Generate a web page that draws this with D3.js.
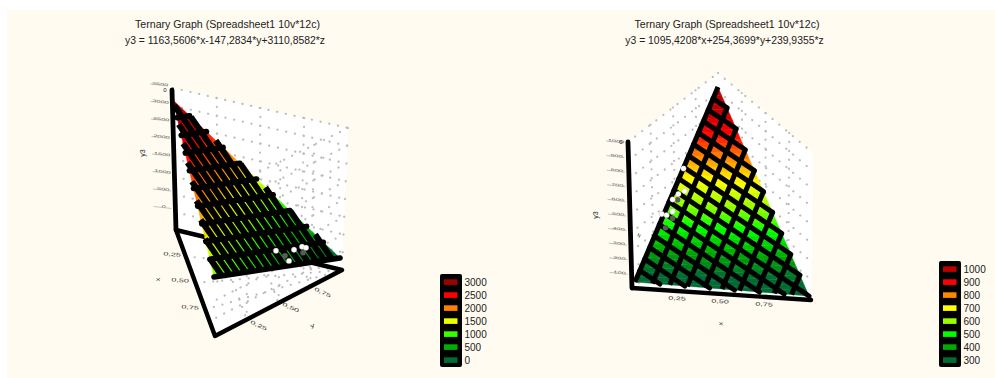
<!DOCTYPE html>
<html>
<head>
<meta charset="utf-8">
<script src="https://cdn.jsdelivr.net/npm/d3@7"></script>
<style>
  html, body { margin: 0; background: #fff; }
  svg { display: block; }
  text { font-family: "Liberation Sans", Arial, sans-serif; fill: #222; }
</style>
</head>
<body>
<svg id="chart" width="995" height="378"></svg>
<script>
const titleLeft = "Ternary Graph (Spreadsheet1 10v*12c)";
const titleRight = "Ternary Graph (Spreadsheet1 10v*12c)";
const formulaLeft = "y3 = 1163,5606*x-147,2834*y+3110,8582*z";
const formulaRight = "y3 = 1095,4208*x+254,3699*y+239,9355*z";

// y3 at the three corners: apex, lower left, lower right
const cornerValuesLeft = [3110.8582, 1163.5606, -147.2834];
const cornerValuesRight = [1095.4208, 254.3699, 239.9355];

const legendValuesLeft = [3000, 2500, 2000, 1500, 1000, 500, 0];
const legendColorsLeft = ["#9c0000", "#ff0000", "#ff8000", "#e8ff00", "#33ff00", "#00b000", "#006b33"];
const legendValuesRight = [1000, 900, 800, 700, 600, 500, 400, 300];
const legendColorsRight = ["#bb0000", "#ff0000", "#ff8800", "#ffff00", "#99ff00", "#00ff00", "#00aa00", "#006b33"];

const zTicksLeft = [3500, 3000, 2500, 2000, 1500, 1000, 500, 0];
const zTicksRight = [1000, 900, 800, 700, 600, 500, 400, 300, 200, 100];

// sample points as [apex share, right corner share]
const pointsLeft = [[0.092, 0.522], [0.026, 0.604], [0.083, 0.662], [0.093, 0.729], [0.084, 0.758]];
const hiddenLeft = [[0.057, 0.582], [0.059, 0.726]];
const pointsRight = [[0.582, 0.001], [0.471, 0.060], [0.454, 0.033], [0.424, 0.014], [0.365, 0.042], [0.348, -0.012], [0.344, 0.018]];
const hiddenRight = [[0.425, 0.042], [0.331, 0.058], [0.281, 0.042]];

const svg = d3.select("#chart");
svg.append("rect").attr("x", 7).attr("y", 10).attr("width", 988).attr("height", 368).attr("fill", "#fffbf0");

// ternary (s, t) -> pixel, s towards apex, t towards right corner
function makeProjection(apex, left, right) {
  const xs = d3.scaleLinear().domain([0, 1]).range([left[0], apex[0]]);
  const ys = d3.scaleLinear().domain([0, 1]).range([left[1], apex[1]]);
  const xt = d3.scaleLinear().domain([0, 1]).range([0, right[0] - left[0]]);
  const yt = d3.scaleLinear().domain([0, 1]).range([0, right[1] - left[1]]);
  return (s, t) => [xs(s) + xt(t), ys(s) + yt(t)];
}

// keep the part of a polygon where value is on the wanted side of limit
function clipPoly(poly, valueOf, limit, keepAbove) {
  const inside = (p) => (keepAbove ? valueOf(p) >= limit : valueOf(p) <= limit);
  const out = [];
  poly.forEach((p, i) => {
    const q = poly[(i + 1) % poly.length];
    if (inside(p)) out.push(p);
    if (inside(p) !== inside(q)) {
      const k = (limit - valueOf(p)) / (valueOf(q) - valueOf(p));
      out.push([p[0] + (q[0] - p[0]) * k, p[1] + (q[1] - p[1]) * k]);
    }
  });
  return out;
}

function wallGrid(g, corners, nu, nv) {
  const [a, b, c, d] = corners;
  const mix = (p, q, k) => [p[0] + (q[0] - p[0]) * k, p[1] + (q[1] - p[1]) * k];
  const lines = [];
  d3.range(0, nv + 1).forEach((i) => lines.push([mix(a, d, i / nv), mix(b, c, i / nv)]));
  d3.range(1, nu).forEach((i) => lines.push([mix(a, b, i / nu), mix(d, c, i / nu)]));
  g.selectAll(null).data(lines).join("path")
    .attr("d", d3.line())
    .attr("fill", "none")
    .attr("stroke", "#bdbdbd")
    .attr("stroke-width", 2.2)
    .attr("stroke-linecap", "round")
    .attr("stroke-dasharray", "0.1 8.8");
}

function drawChart(cfg) {
  const g = svg.append("g");

  g.append("polygon").attr("points", cfg.whiteArea.join(" ")).attr("fill", "#fff");
  cfg.walls.forEach((w) => wallGrid(g, w.corners, w.nu, w.nv));

  // base triangle and the back edge go under the surface
  g.append("path")
    .attr("d", d3.line()(cfg.baseLine))
    .attr("fill", "none").attr("stroke", "#000").attr("stroke-width", 4.4)
    .attr("stroke-linejoin", "round").attr("stroke-linecap", "round");

  const project = makeProjection(cfg.apex, cfg.left, cfg.right);
  const [vA, vL, vR] = cfg.cornerValues;
  const field = (p) => vL + (vA - vL) * p[0] + (vR - vL) * p[1];

  const color = d3.scaleLinear().domain(cfg.legendValues).range(cfg.legendColors).clamp(true);
  const step = (cfg.legendValues[0] - cfg.legendValues[1]) / 5;
  const triangle = [[1, 0], [0, 0], [0, 1]];
  const lo = d3.min(cfg.cornerValues), hi = d3.max(cfg.cornerValues);
  const levels = d3.range(Math.floor(lo / step) * step, hi + step, step);

  levels.forEach((level) => {
    let band = clipPoly(triangle, field, level, true);
    if (band.length) band = clipPoly(band, field, level + step, false);
    if (band.length < 3) return;
    g.append("polygon")
      .attr("points", band.map((p) => project(p[0], p[1])).join(" "))
      .attr("fill", color(level + step / 2))
      .attr("stroke", color(level + step / 2))
      .attr("stroke-width", 0.4);
  });

  const mesh = g.append("g").attr("fill", "none").attr("stroke", "#000")
    .attr("stroke-linecap", "round").attr("stroke-linejoin", "round");

  // first family: s + rowSkew * t = const, running right from the left edge
  d3.range(cfg.rowFrom, cfg.rowCount).forEach((m) => {
    const c = m / cfg.rowCount;
    const k = cfg.rowSkew;
    const hyp = (1 - c) / (1 - k);
    const end = k > 0 ? Math.min(c / k, hyp) : hyp;
    mesh.append("path").attr("stroke-width", cfg.rowWidth)
      .attr("d", d3.line()([project(c, 0), project(c - k * end, end)]));
  });

  // second family: t + crossSkew * s = const, running up from the bottom edge
  d3.range(cfg.crossFrom, cfg.crossCount).forEach((j) => {
    const c = j / cfg.crossCount;
    const q = cfg.crossSkew;
    const limits = [(1 - c) / (1 - q)];
    if (q > 0) limits.push(c / q);
    const top = d3.min(limits);
    if (top <= 0) return;
    mesh.append("path").attr("stroke-width", cfg.crossWidth)
      .attr("stroke-linecap", "butt")
      .attr("d", d3.line()([project(0, c), project(top, c - q * top)]));
  });

  g.selectAll(null).data(cfg.hidden).join("circle")
    .attr("cx", (d) => project(d[0], d[1])[0])
    .attr("cy", (d) => project(d[0], d[1])[1])
    .attr("r", 2.8).attr("fill", "#5a5a5a");
  g.selectAll(null).data(cfg.points).join("circle")
    .attr("cx", (d) => project(d[0], d[1])[0])
    .attr("cy", (d) => project(d[0], d[1])[1])
    .attr("r", 2.7).attr("fill", "#fff").attr("stroke", "#999").attr("stroke-width", 0.3);

  // thick y3 axis
  g.append("line")
    .attr("x1", cfg.axisTop[0]).attr("y1", cfg.axisTop[1])
    .attr("x2", cfg.axisBottom[0]).attr("y2", cfg.axisBottom[1])
    .attr("stroke", "#000").attr("stroke-width", 4.8).attr("stroke-linecap", "round");

  const z = d3.scaleLinear().domain(cfg.zDomain).range([cfg.axisBottom[1], cfg.axisTop[1]]);
  const zX = d3.scaleLinear().domain(cfg.zDomain).range([cfg.axisBottom[0], cfg.axisTop[0]]);
  const zAxis = g.append("g").call(d3.axisLeft(z).tickValues(cfg.zTicks).tickSize(0).tickFormat(d3.format("d")));
  zAxis.select(".domain").remove();
  zAxis.selectAll(".tick").each(function (d) {
    const tick = d3.select(this);
    tick.attr("transform", `translate(${zX(d) - 12},${z(d) + cfg.zTickDy})`);
    tick.select("text").attr("x", 0).attr("y", 0).attr("dy", "0.1em")
      .attr("font-size", 5).attr("text-anchor", "middle").style("fill", "#555")
      .attr("transform", "rotate(7) scale(1.5,0.7)");
    tick.append("line")
      .attr("x1", -10).attr("x2", 8).attr("y1", -1).attr("y2", 1)
      .attr("stroke", "#aaa").attr("stroke-width", 0.7);
  });

  g.append("text").attr("transform", `translate(${cfg.yTitle[0]},${cfg.yTitle[1]}) rotate(-90)`)
    .attr("font-size", 7).attr("text-anchor", "middle").text("y3");
  g.append("text").attr("x", cfg.axisTop[0] - 7).attr("y", cfg.axisTop[1] + 2)
    .attr("font-size", 6).attr("text-anchor", "middle").text("0");

  cfg.edgeLabels.forEach((e) => {
    g.append("text")
      .attr("transform", `translate(${e.at[0]},${e.at[1]}) rotate(${e.rotate || 0}) scale(1.5,0.85)`)
      .attr("font-size", 6).attr("text-anchor", "middle").style("fill", "#333").text(e.text);
  });

  // titles
  g.append("text").attr("x", cfg.titleX).attr("y", 28).attr("font-size", 10.6)
    .attr("text-anchor", "middle").text(cfg.title);
  g.append("text").attr("x", cfg.titleX - 2.5).attr("y", 44).attr("font-size", 10.4)
    .attr("text-anchor", "middle").text(cfg.formula);

  // legend, last swatch sits at the same height in both charts
  const n = cfg.legendValues.length;
  const ly = d3.scalePoint().domain(cfg.legendValues).range([360 - (n - 1) * 13, 360]);
  g.append("rect").attr("x", cfg.legendX).attr("y", 360 - (n - 1) * 13 - 8)
    .attr("width", 22).attr("height", (n - 1) * 13 + 15).attr("rx", 2).attr("fill", "#000");
  cfg.legendValues.forEach((v, i) => {
    g.append("rect").attr("x", cfg.legendX + 4).attr("y", ly(v) - 2.7)
      .attr("width", 13.5).attr("height", 5.6).attr("fill", cfg.legendColors[i]);
    g.append("text").attr("x", cfg.legendX + 24.5).attr("y", ly(v) + 3.6)
      .attr("font-size", 10).text(v);
  });
}

drawChart({
  title: titleLeft, formula: formulaLeft, titleX: 227.5,
  cornerValues: cornerValuesLeft,
  legendValues: legendValuesLeft, legendColors: legendColorsLeft, legendX: 440,
  apex: [173, 100], left: [214, 277], right: [340, 258],
  rowSkew: 0, rowCount: 10, rowFrom: 0, rowWidth: 5.6,
  crossSkew: 0.58, crossCount: 16, crossFrom: 1, crossWidth: 6,
  points: pointsLeft, hidden: hiddenLeft,
  whiteArea: [[173, 88], [348, 128], [342, 270], [215, 336], [176, 230]],
  walls: [
    { corners: [[173, 88], [348, 128], [342, 270], [176, 230]], nu: 4, nv: 8 },
    { corners: [[348, 128], [213, 195], [215, 336], [342, 270]], nu: 4, nv: 8 },
    { corners: [[176, 230], [342, 270], [342, 270], [215, 336]], nu: 4, nv: 4 }
  ],
  baseLine: [[176, 230], [215, 336], [342, 270], [176, 230]],
  axisTop: [172, 90], axisBottom: [176, 230],
  zDomain: [-500, 3500], zTicks: zTicksLeft, zTickDy: -5,
  yTitle: [145, 153],
  edgeLabels: [
    { text: "0,25", at: [172, 256], rotate: 5 }, { text: "0,50", at: [180, 282], rotate: 5 },
    { text: "0,75", at: [190, 309], rotate: 5 }, { text: "x", at: [158, 281], rotate: 5 },
    { text: "0,25", at: [258, 327], rotate: 25 }, { text: "0,50", at: [290, 309], rotate: 25 },
    { text: "0,75", at: [322, 294], rotate: 25 }, { text: "y", at: [313, 327], rotate: -25 }
  ]
});

drawChart({
  title: titleRight, formula: formulaRight, titleX: 727,
  cornerValues: cornerValuesRight,
  legendValues: legendValuesRight, legendColors: legendColorsRight, legendX: 939,
  apex: [718, 87], left: [635, 282], right: [809, 296],
  rowSkew: 1 - 10 / 17, rowCount: 17, rowFrom: 1, rowWidth: 5,
  crossSkew: 0, crossCount: 10, crossFrom: 0, crossWidth: 5,
  points: pointsRight, hidden: hiddenRight,
  whiteArea: [[628, 142], [718, 73], [813, 153], [811, 300], [632, 288]],
  walls: [
    { corners: [[628, 142], [718, 73], [720, 219], [632, 288]], nu: 4, nv: 8 },
    { corners: [[718, 73], [813, 153], [811, 298], [720, 219]], nu: 4, nv: 8 },
    { corners: [[632, 288], [720, 219], [720, 219], [811, 298]], nu: 4, nv: 4 }
  ],
  baseLine: [[632, 288], [811, 300]],
  axisTop: [628, 142], axisBottom: [632, 288],
  zDomain: [0, 1000], zTicks: zTicksRight, zTickDy: 0,
  yTitle: [598, 215],
  edgeLabels: [
    { text: "0,25", at: [677, 300], rotate: 3 }, { text: "0,50", at: [720, 303], rotate: 3 },
    { text: "0,75", at: [764, 306], rotate: 3 }, { text: "x", at: [721, 325], rotate: 3 },
    { text: "z", at: [640, 236], rotate: -60 }
  ]
});
</script>
</body>
</html>
